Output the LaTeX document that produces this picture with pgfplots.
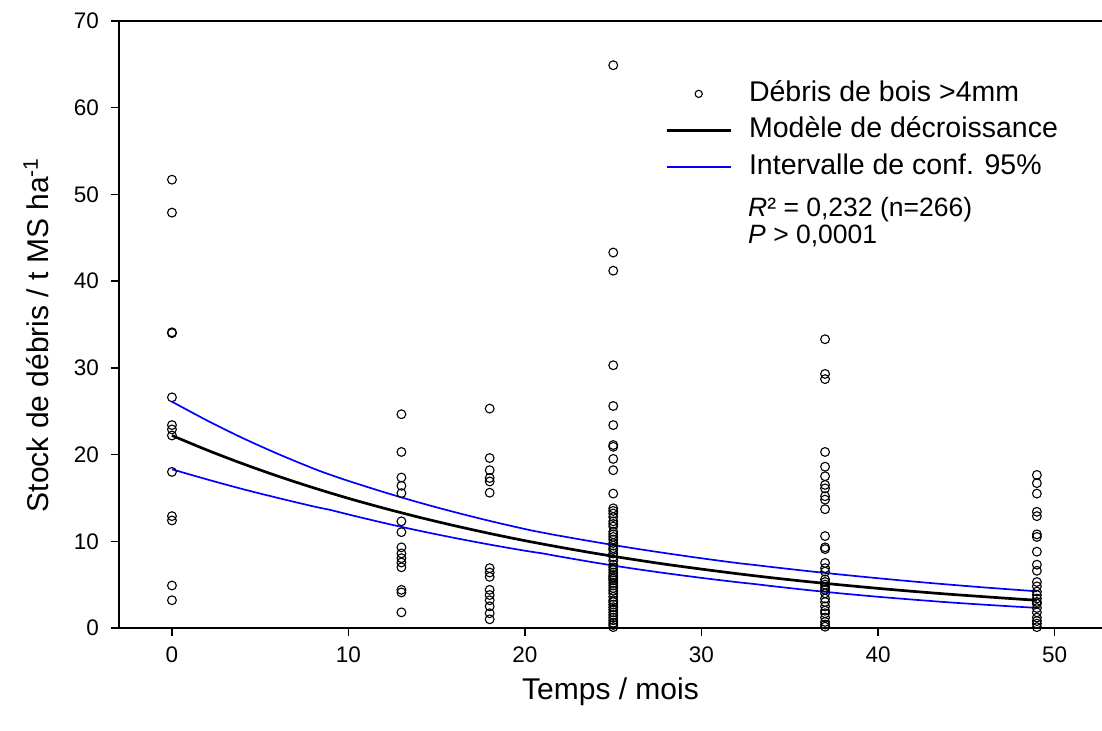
\documentclass[border=0pt]{standalone}
\usepackage{pgfplots}
\pgfplotsset{compat=1.18}
\usepackage{pgfplotstable}
\usepackage{fontspec}
\setmainfont{Liberation Sans}

\pgfplotstableread{
x y
0 51.7
0 47.9
0 34.1
0 34.0
0 26.6
0 23.4
0 22.9
0 22.2
0 18.0
0 12.9
0 12.4
0 4.9
0 3.2
13 24.65
13 20.3
13 17.35
13 16.4
13 15.55
13 12.3
13 11.05
13 9.3
13 8.6
13 8.05
13 7.55
13 7.0
13 4.4
13 4.1
13 1.8
18 25.3
18 19.6
18 18.2
18 17.3
18 16.9
18 15.6
18 6.9
18 6.4
18 5.9
18 4.4
18 3.8
18 3.2
18 2.5
18 1.7
18 1.0
25 64.9
25 43.3
25 41.2
25 30.3
25 25.6
25 23.4
25 21.1
25 20.9
25 19.5
25 18.2
25 15.5
25 13.8
25 13.5
25 13.2
25 12.8
25 12.3
25 12.0
25 11.7
25 11.1
25 10.8
25 10.5
25 10.2
25 9.8
25 9.5
25 9.2
25 9.0
25 8.6
25 8.2
25 7.8
25 7.3
25 7.0
25 6.7
25 6.4
25 6.1
25 5.9
25 5.7
25 5.5
25 5.2
25 4.9
25 4.6
25 4.3
25 4.0
25 3.6
25 3.2
25 3.0
25 2.7
25 2.4
25 2.1
25 1.8
25 1.5
25 1.2
25 0.9
25 0.6
25 0.35
25 0.1
37 33.3
37 29.3
37 28.7
37 20.3
37 18.6
37 17.5
37 16.5
37 16.1
37 15.2
37 14.8
37 13.7
37 10.6
37 9.3
37 9.1
37 7.5
37 6.9
37 6.5
37 5.6
37 5.3
37 5.0
37 4.7
37 4.4
37 4.0
37 3.4
37 3.0
37 2.5
37 2.0
37 1.7
37 1.2
37 0.7
37 0.4
37 0.15
49 17.65
49 16.7
49 15.5
49 13.4
49 12.9
49 10.8
49 10.5
49 8.8
49 7.3
49 6.6
49 5.3
49 4.8
49 4.2
49 3.8
49 3.4
49 3.0
49 2.8
49 2.3
49 1.8
49 1.2
49 0.8
49 0.5
49 0.1
}\ptsdata

\pgfplotstableread{
x y
0 22.20
2 20.51
4 18.95
6 17.51
8 16.18
10 14.95
12 13.82
14 12.77
16 11.80
18 10.90
20 10.07
22 9.31
24 8.60
26 7.95
28 7.34
30 6.79
32 6.27
34 5.79
36 5.35
38 4.95
40 4.57
42 4.22
44 3.90
46 3.61
48 3.33
49 3.20
}\modeldata

\pgfplotstableread{
x y
0 26.10
2 23.92
4 21.91
6 20.08
8 18.40
9 17.65
10 16.96
12 15.67
14 14.47
16 13.37
18 12.35
20 11.41
21 11.00
22 10.62
24 9.91
26 9.24
28 8.62
30 8.04
32 7.50
33 7.27
34 7.03
36 6.57
38 6.14
40 5.74
42 5.36
44 5.01
46 4.68
48 4.38
49 4.23
}\upperci

\pgfplotstableread{
x y
0 18.30
2 17.13
4 16.02
6 15.00
8 14.03
9 13.60
10 13.09
12 12.12
14 11.22
16 10.39
18 9.62
20 8.91
21 8.60
22 8.23
24 7.53
26 6.89
28 6.31
30 5.78
32 5.29
33 5.07
34 4.83
36 4.38
38 3.97
40 3.60
42 3.27
44 2.96
46 2.69
48 2.44
49 2.32
}\lowerci

\begin{document}
\begin{tikzpicture}
\begin{axis}[
  scale only axis,
  width=491.5pt, height=303.5pt,
  xmin=-3, xmax=52.69,
  ymin=0, ymax=70,
  axis lines*=left,
  axis line style={line width=1.2pt},
  xtick={0,10,...,50},
  ytick={0,10,...,70},
  tick align=outside,
  major tick length=4pt,
  tick style={line width=0.75pt, black},
  /pgf/number format/assume math mode=true,
  ticklabel style={font=\fontsize{11.25}{13}\selectfont},
  yticklabel style={xshift=-2.5pt},
  xticklabel style={yshift=-2pt},
  label style={font=\fontsize{15}{18}\selectfont},
  xlabel={Temps / mois},
  ylabel={Stock de débris / t MS ha\textsuperscript{-1}},
  xlabel style={at={(axis description cs:0.5,-0.1054)},anchor=center},
  ylabel style={at={(axis description cs:-0.0844,0.483)},anchor=center},
  clip=false,
  legend style={at={(axis description cs:0.5554,0.9106)}, anchor=north west,
    draw=none, fill=none, inner sep=0pt,
    font=\fontsize{14.25}{17}\selectfont,
    nodes={inner xsep=0pt, inner ysep=2.4pt, text height=10.5pt, text depth=2.9pt},
    /tikz/every odd column/.append style={column sep=8.5pt}},
  legend cell align=left,
  legend image code/.code={\draw[mark repeat=2,mark phase=2,#1] plot coordinates {(0pt,0pt) (16pt,0pt) (32pt,0pt)};},
]
\addplot[only marks, mark=o, mark size=2.2pt, mark options={line width=0.55pt, black}, forget plot] table[x=x,y=y]{\ptsdata};
\addlegendimage{only marks, mark=o, mark size=1.8pt, mark options={line width=0.55pt, black}}
\addlegendentry{Débris de bois >4mm}
\addplot[black, line width=1.35pt, smooth] table[x=x,y=y]{\modeldata};
\addlegendentry{Modèle de décroissance}
\addplot[blue, line width=0.85pt, smooth] table[x=x,y=y]{\upperci};
\addlegendentry{Intervalle de conf. 95\%}
\addplot[blue, line width=0.85pt, smooth, forget plot] table[x=x,y=y]{\lowerci};
\draw[line width=1.2pt] (rel axis cs:0,1) -- (rel axis cs:1,1);
\node[anchor=west, inner sep=0pt, font=\fontsize{13.25}{15}\selectfont] at (rel axis cs:0.6397,0.689) {\textit{R}² = 0,232 (n=266)};
\node[anchor=west, inner sep=0pt, font=\fontsize{13.25}{15}\selectfont] at (rel axis cs:0.6397,0.646) {\textit{P} > 0,0001};
\end{axis}
\pgfresetboundingbox
\path (current axis.south west) ++(-59.5pt,-51.5pt) rectangle ++(551pt,365.5pt);
\end{tikzpicture}
\end{document}
